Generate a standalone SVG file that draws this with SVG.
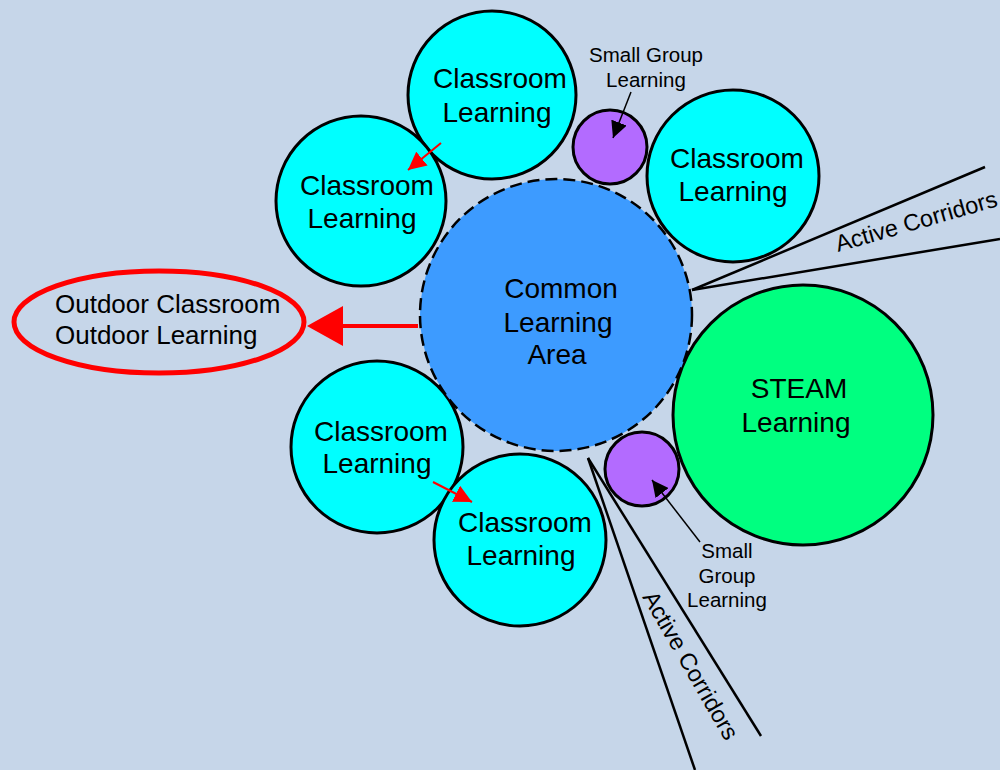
<svg xmlns="http://www.w3.org/2000/svg" width="1000" height="770" viewBox="0 0 1000 770">
  <style>
    .lbl { font-family: "Liberation Sans", Arial, sans-serif; fill: #000; text-anchor: middle; }
    .big { font-size: 28px; }
    .small { font-size: 20.5px; }
    .corr { font-family: "Liberation Sans", Arial, sans-serif; font-size: 23.5px; fill: #000; }
    .out { font-family: "Liberation Sans", Arial, sans-serif; font-size: 26px; fill: #000; }
    .room { fill: #00ffff; stroke: #000; stroke-width: 3; }
    .group { fill: #b36bff; stroke: #000; stroke-width: 3; }
    .edge { stroke: #000; stroke-width: 2.5; fill: none; }
  </style>
  <defs>
    <marker id="smallRed" viewBox="0 0 10 10" refX="10" refY="5" markerWidth="9" markerHeight="9" orient="auto" markerUnits="strokeWidth">
      <path d="M0,0 L10,5 L0,10 z" fill="#ff0000"/>
    </marker>
    <marker id="blackHead" viewBox="0 0 10 10" refX="10" refY="5" markerWidth="11" markerHeight="11" orient="auto" markerUnits="strokeWidth">
      <path d="M0,0 L10,5 L0,10 z" fill="#000"/>
    </marker>
  </defs>

  <rect width="1000" height="770" fill="#c6d6e9"/>

  <!-- corridor lines -->
  <g id="connectors">
    <line class="edge" x1="692" y1="290" x2="985" y2="167"/>
    <line class="edge" x1="692" y1="290" x2="1000" y2="239"/>
    <line class="edge" x1="588" y1="458" x2="695" y2="770"/>
    <line class="edge" x1="588" y1="458" x2="761" y2="736"/>
  </g>

  <g id="classroom-top">
    <circle class="room" cx="492" cy="95" r="84"/>
    <text class="lbl big" x="500" y="88">Classroom</text>
    <text class="lbl big" x="497" y="122">Learning</text>
  </g>
  <g id="classroom-left-top">
    <circle class="room" cx="361" cy="201" r="85"/>
    <text class="lbl big" x="367" y="195">Classroom</text>
    <text class="lbl big" x="362" y="228">Learning</text>
  </g>
  <g id="classroom-right-top">
    <circle class="room" cx="733" cy="176" r="86"/>
    <text class="lbl big" x="737" y="168">Classroom</text>
    <text class="lbl big" x="733" y="201">Learning</text>
  </g>
  <g id="classroom-left-bottom">
    <circle class="room" cx="377" cy="447" r="86"/>
    <text class="lbl big" x="381" y="441">Classroom</text>
    <text class="lbl big" x="377" y="473">Learning</text>
  </g>
  <g id="classroom-bottom">
    <circle class="room" cx="520" cy="540" r="86"/>
    <text class="lbl big" x="525" y="532">Classroom</text>
    <text class="lbl big" x="521" y="565">Learning</text>
  </g>

  <g id="steam">
    <circle cx="803" cy="415" r="130" fill="#00ff80" stroke="#000" stroke-width="3"/>
    <text class="lbl big" x="799" y="398">STEAM</text>
    <text class="lbl big" x="796" y="432">Learning</text>
  </g>

  <g id="common-area">
    <circle cx="556" cy="315" r="136" fill="#3d9bff" stroke="#000" stroke-width="2.5" stroke-dasharray="12 6"/>
    <text class="lbl big" x="561" y="298">Common</text>
    <text class="lbl big" x="558" y="332">Learning</text>
    <text class="lbl big" x="557" y="364">Area</text>
  </g>

  <g id="small-group-top">
    <circle class="group" cx="610" cy="147" r="37"/>
    <text class="lbl small" x="646" y="62">Small Group</text>
    <text class="lbl small" x="646" y="87">Learning</text>
  </g>
  <g id="small-group-bottom">
    <circle class="group" cx="642" cy="469" r="37"/>
    <text class="lbl small" x="727" y="558">Small</text>
    <text class="lbl small" x="727" y="583">Group</text>
    <text class="lbl small" x="727" y="607">Learning</text>
  </g>

  <g id="outdoor">
    <ellipse cx="159" cy="322" rx="145" ry="51" fill="none" stroke="#ff0000" stroke-width="5"/>
    <text class="out" x="55" y="313">Outdoor Classroom</text>
    <text class="out" x="55" y="344">Outdoor Learning</text>
  </g>

  <g id="arrows">
    <line x1="418" y1="326" x2="340" y2="326" stroke="#ff0000" stroke-width="4"/>
    <path d="M307,326 L343,306 L343,346 z" fill="#ff0000"/>
    <line x1="441" y1="143" x2="408" y2="170" stroke="#ff0000" stroke-width="2" marker-end="url(#smallRed)"/>
    <line x1="433" y1="482" x2="472" y2="502" stroke="#ff0000" stroke-width="2" marker-end="url(#smallRed)"/>
    <line x1="631" y1="92" x2="613" y2="138" stroke="#000" stroke-width="1.5" marker-end="url(#blackHead)"/>
    <line x1="700" y1="542" x2="652" y2="480" stroke="#000" stroke-width="1.5" marker-end="url(#blackHead)"/>
  </g>

  <g id="corridor-labels">
    <text class="corr" transform="translate(838,252) rotate(-16)">Active Corridors</text>
    <text class="corr" transform="translate(642,597) rotate(60)">Active Corridors</text>
  </g>
</svg>
